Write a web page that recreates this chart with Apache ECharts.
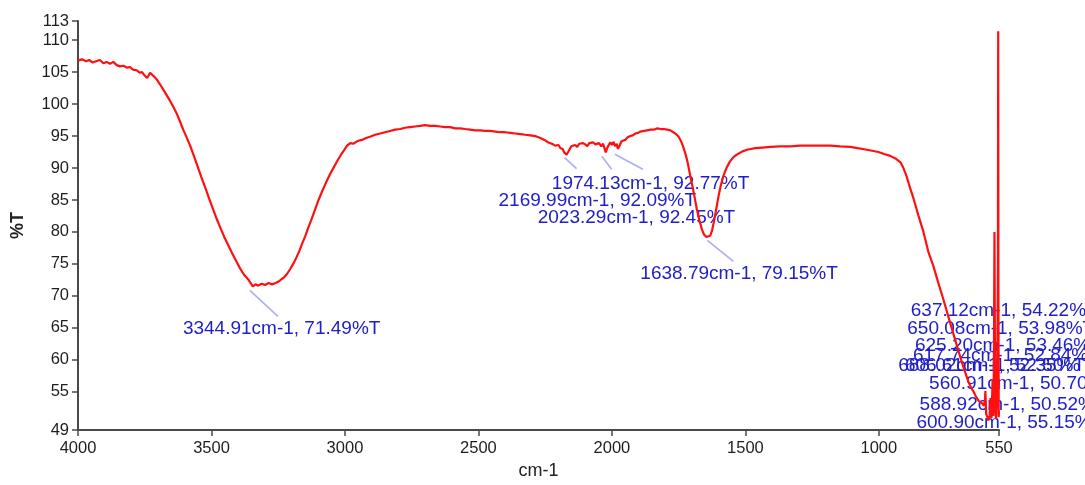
<!DOCTYPE html>
<html><head><meta charset="utf-8">
<script src="https://cdn.jsdelivr.net/npm/echarts@6/dist/echarts.min.js"></script>
<style>html,body{margin:0;padding:0;background:#fff}#c{width:1085px;height:485px}</style>
</head><body><div id="c"></div>
<script>
// ---- spectrum data (cm-1, %T) ----
const wavenumbers = [
4000,3985,3970,3958,3945,3932,3918,3905,3893,3880,3868,3855,3843,3830,3816,3805,3794,3781,3768,3760,
3753,3746,3741,3735,3730,3723,3715,3704,3693,3681,3668,3655,3642,3629,3617,3606,3593,3580,3567,3554,
3539,3524,3511,3498,3483,3468,3453,3438,3423,3408,3393,3378,3363,3345,3335,3325,3312,3299,3286,3273,
3260,3250,3238,3228,3216,3205,3194,3183,3171,3160,3149,3138,3125,3112,3099,3085,3070,3055,3042,3029,
3016,3003,2992,2980,2969,2958,2947,2936,2921,2906,2887,2868,2850,2831,2812,2793,2775,2756,2737,2718,
2700,2681,2662,2643,2625,2606,2587,2568,2550,2531,2512,2493,2475,2456,2437,2418,2400,2381,2362,2343,
2325,2306,2287,2268,2253,2238,2225,2212,2200,2193,2185,2178,2170,2164,2158,2152,2145,2138,2130,2122,
2115,2108,2100,2092,2085,2078,2070,2062,2055,2048,2040,2033,2027,2023,2018,2012,2006,2000,1994,1988,
1982,1978,1974,1970,1964,1958,1950,1941,1931,1922,1912,1902,1893,1880,1868,1855,1843,1830,1818,1805,
1793,1781,1770,1759,1750,1741,1733,1725,1717,1709,1700,1691,1682,1672,1663,1655,1646,1639,1632,1625,
1618,1610,1601,1592,1582,1571,1558,1545,1528,1511,1490,1463,1435,1406,1370,1331,1295,1256,1220,1181,
1145,1107,1080,1050,1025,1002,980,957,938,919,908,897,884,870,852,833,814,796,777,758,
740,721,702,683,664,654,645,637,631,625,619,613,607,603,601,598,593,589,585,582,
578,574,571,569,567,565,563,561,559,556,554,553,552,551,550
];
const transmittance = [
106.8,107.0,106.7,106.9,106.5,106.7,106.9,106.4,106.6,106.3,106.6,106.1,105.9,106.0,105.7,105.8,105.4,105.3,104.9,105.0,
104.6,104.8,104.1,104.5,104.9,104.9,104.3,103.8,103.1,102.3,101.4,100.5,99.5,98.4,97.2,96.0,94.8,93.5,92.0,90.5,
88.7,87.0,85.5,84.0,82.3,80.8,79.3,78.0,76.7,75.5,74.3,73.3,72.6,71.5,71.8,71.6,71.9,71.7,72.0,71.8,
72.0,72.2,72.6,72.9,73.5,74.2,75.0,75.9,77.0,78.2,79.3,80.6,82.0,83.5,85.0,86.4,87.8,89.1,90.1,91.1,
92.0,92.8,93.5,93.9,93.8,94.1,94.3,94.4,94.7,94.9,95.2,95.4,95.6,95.8,96.0,96.1,96.3,96.4,96.5,96.6,
96.7,96.6,96.6,96.5,96.4,96.4,96.2,96.2,96.1,96.0,95.9,95.9,95.8,95.8,95.7,95.6,95.6,95.5,95.4,95.3,
95.2,95.1,95.0,94.7,94.4,94.0,93.8,93.5,93.6,93.1,93.0,92.4,92.09,92.5,92.8,93.4,93.2,93.6,93.3,93.8,
93.5,93.9,93.7,93.4,93.9,93.6,94.0,93.7,93.5,93.9,93.4,93.8,93.0,92.45,93.1,93.6,94.0,93.6,94.1,93.4,
93.8,93.0,92.77,93.6,94.2,93.9,94.4,94.8,95.0,95.1,95.4,95.5,95.7,95.8,95.9,96.0,96.0,96.2,96.1,96.1,
96.0,95.9,95.6,95.3,94.9,94.2,93.3,92.3,91.0,89.3,87.5,85.6,83.6,81.8,80.4,79.6,79.2,79.15,79.4,80.2,
81.6,83.4,85.5,87.3,88.8,90.0,91.0,91.7,92.2,92.6,92.9,93.1,93.2,93.3,93.4,93.4,93.5,93.5,93.5,93.5,
93.4,93.3,93.1,92.9,92.7,92.5,92.2,91.9,91.5,90.9,90.0,88.8,87.0,85.2,82.6,80.0,76.8,74.7,72.0,69.4,
66.8,64.1,61.4,58.8,56.5,55.6,55.0,54.3,54.2,53.5,53.8,53.2,52.8,53.5,55.1,51.5,51.0,50.5,51.3,54.0,
50.9,57.0,51.2,60.0,80.0,60.0,52.0,50.7,53.0,62.0,75.0,111.4,70.0,51.0,52.0
];

// ---- axis tick labels ----
const xTicks = [4000, 3500, 3000, 2500, 2000, 1500, 1000, 550];
const yTicks = [113, 110, 105, 100, 95, 90, 85, 80, 75, 70, 65, 60, 55, 49];

// ---- peak annotations ----
const peakWn = [3344.91, 2169.99, 2023.29, 1974.13, 1638.79, 637.12, 650.08, 625.20, 617.74, 688.02, 606.61, 560.91, 588.92, 600.90];
const peakT  = [71.49,   92.09,   92.45,   92.77,   79.15,   54.22,  53.98,  53.46,  52.84,  52.35,  52.50,  50.70,  50.52,  55.15];

// layout of annotation: leader line [x0,y0,x1,y1] offsets from peak pixel (or null), text [left dx, middle dy]
const leaderLayout = [[-3,4,25,30],[-2,3,10,14],[-4,4,6,17],[-4,4,24,19],[-1,3,25,24],null,null,null,null,null,null,null,null,null];
const textLayout = [[-70,42],[-68,46],[-68,65],[-67,33],[-68,36],[-65,-86],[-65,-70],[-64,-56],[-68,-50],[-64,-43],[-79,-42],[-67,-35],[-69,-16],[-69,32]];

const chart = echarts.init(document.getElementById('c'), null, {renderer: 'canvas'});
const axisFont = "'Liberation Sans Narrow', 'Liberation Sans', Arial, sans-serif";
const axisColor = '#4a4a4a';

const option = {
  backgroundColor: '#ffffff',
  animation: false,
  grid: {left: 78, right: 86, top: 21, bottom: 52, containLabel: false},
  xAxis: {
    type: 'value', inverse: true, min: 550, max: 4000,
    name: 'cm-1', nameLocation: 'middle', nameGap: 29,
    nameTextStyle: {fontFamily: axisFont, fontSize: 18, color: '#222'},
    axisLine: {show: true, lineStyle: {color: axisColor, width: 2}},
    axisTick: {show: true, length: 6, customValues: xTicks, lineStyle: {color: axisColor, width: 1.5}},
    axisLabel: {customValues: xTicks, margin: 10, fontFamily: axisFont, fontSize: 16.5, color: '#1e1e1e',
                formatter: v => String(v)},
    splitLine: {show: false}
  },
  yAxis: {
    type: 'value', min: 49, max: 113,
    name: '%T', nameLocation: 'middle', nameGap: 51, nameRotate: 90,
    nameTextStyle: {fontFamily: "'Liberation Sans', Arial, sans-serif", fontSize: 18, fontWeight: 'bold', color: '#222'},
    axisLine: {show: true, lineStyle: {color: axisColor, width: 2}},
    axisTick: {show: true, length: 6, customValues: yTicks, lineStyle: {color: axisColor, width: 1.5}},
    axisLabel: {customValues: yTicks, margin: 9, fontFamily: axisFont, fontSize: 16.5, color: '#1e1e1e',
                formatter: v => String(v)},
    splitLine: {show: false}
  },
  series: [
    {
      type: 'custom', z: 2, clip: false, silent: true,
      data: peakWn.map((w, i) => [w, peakT[i], i]),
      encode: {x: 0, y: 1},
      renderItem: function (params, api) {
        const i = api.value(2);
        const p = api.coord([api.value(0), api.value(1)]);
        const children = [];
        const L = leaderLayout[i];
        if (L) {
          children.push({type: 'line', shape: {x1: p[0] + L[0], y1: p[1] + L[1], x2: p[0] + L[2], y2: p[1] + L[3]},
                         style: {stroke: '#aab0ee', lineWidth: 1.6}});
        }
        const T = textLayout[i];
        children.push({type: 'text', style: {
          text: peakWn[i].toFixed(2) + 'cm-1, ' + peakT[i].toFixed(2) + '%T',
          x: p[0] + T[0], y: p[1] + T[1], align: 'left', verticalAlign: 'middle',
          fill: '#2020c8', fontSize: 19, fontFamily: "'Liberation Sans', Arial, sans-serif"}});
        return {type: 'group', children: children};
      }
    },
    {
      type: 'line', z: 3, showSymbol: false, silent: true,
      data: wavenumbers.map((w, i) => [w, transmittance[i]]),
      lineStyle: {color: '#ff1010', width: 2.2},
      sampling: null
    }
  ]
};
chart.setOption(option);
</script>
</body></html>
